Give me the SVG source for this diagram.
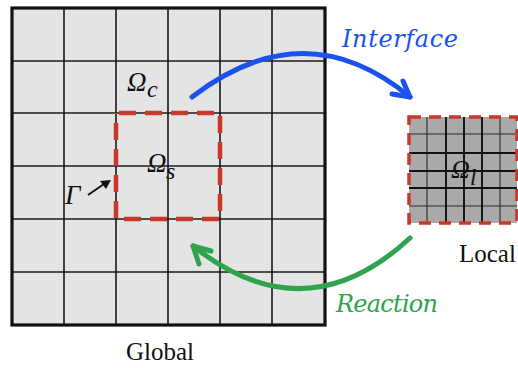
<svg xmlns="http://www.w3.org/2000/svg" width="518" height="368" viewBox="0 0 518 368">
<style>
.g{stroke:#1a1a1a;stroke-width:1.6;fill:none}
.lt{stroke:#2a2a2a;stroke-width:1.1;fill:none}
.lk{stroke:#111;stroke-width:1.9;fill:none}
.red{stroke:#c8392b;fill:none}
.math{font-family:"Liberation Serif",serif;font-style:italic;fill:#111}
.lab{font-family:"Liberation Serif",serif;font-size:25px;fill:#111}
.arr{fill:none;stroke-width:5;stroke-linecap:round;stroke-linejoin:round}
.cap{font-family:"DejaVu Serif",serif;font-style:italic;font-size:24px}
</style>
<rect width="518" height="368" fill="#fff"/>
<g id="global">
<rect x="12" y="8" width="313" height="317" fill="#e4e4e4"/>
<path class="g" d="M64,8V325M116,8V325M168,8V325M220,8V325M272,8V325M12,61H325M12,113H325M12,166H325M12,219H325M12,272H325"/>
<rect x="12" y="8" width="313" height="317" fill="none" stroke="#111" stroke-width="3.2"/>
<text class="lab" x="126" y="360">Global</text>
</g>
<g id="subdomain">
<rect class="red" x="116" y="113" width="104" height="106" stroke-width="4.5" stroke-dasharray="17 9" stroke-dashoffset="-3"/>
<text class="math" x="127" y="91" font-size="27">Ω</text><text class="math" x="147" y="97" font-size="24">c</text>
<text class="math" x="147" y="172" font-size="27">Ω</text><text class="math" x="166" y="179" font-size="24">s</text>
<text class="math" x="65" y="204" font-size="27">Γ</text>
<path d="M88,195 L104,184" stroke="#111" stroke-width="2"/>
<path d="M111,180 L100,181 L106,189 Z" fill="#111"/>
</g>
<g id="local">
<rect x="409" y="117" width="108" height="106" fill="#a9a9a9"/>
<path class="lt" d="M427,117V223M500,117V223M409,134H517M409,206H517"/>
<path class="lk" d="M446,117V223M464,117V223M482,117V223M409,153H517M409,171H517M409,188H517"/>
<rect class="red" x="409" y="117" width="108" height="106" stroke-width="3.5" stroke-dasharray="12 8"/>
<text class="math" x="451" y="178" font-size="26">Ω</text><text class="math" x="470" y="185" font-size="23">l</text>
<text class="lab" x="459" y="262">Local</text>
</g>
<g id="connectors">
<path class="arr" stroke="#1a52f0" d="M192,97 Q305,10 410,97"/>
<path class="arr" stroke="#1a52f0" d="M403,81 L410,97 L392,94"/>
<path class="arr" stroke="#2ea44c" d="M410,238 Q305,335 193,246"/>
<path class="arr" stroke="#2ea44c" d="M211,251 L193,246 L199,264"/>
<text class="cap" x="342" y="47" fill="#1a52f0" textLength="116">Interface</text>
<text class="cap" x="336" y="312" fill="#2ea44c" textLength="102">Reaction</text>
</g>
</svg>
